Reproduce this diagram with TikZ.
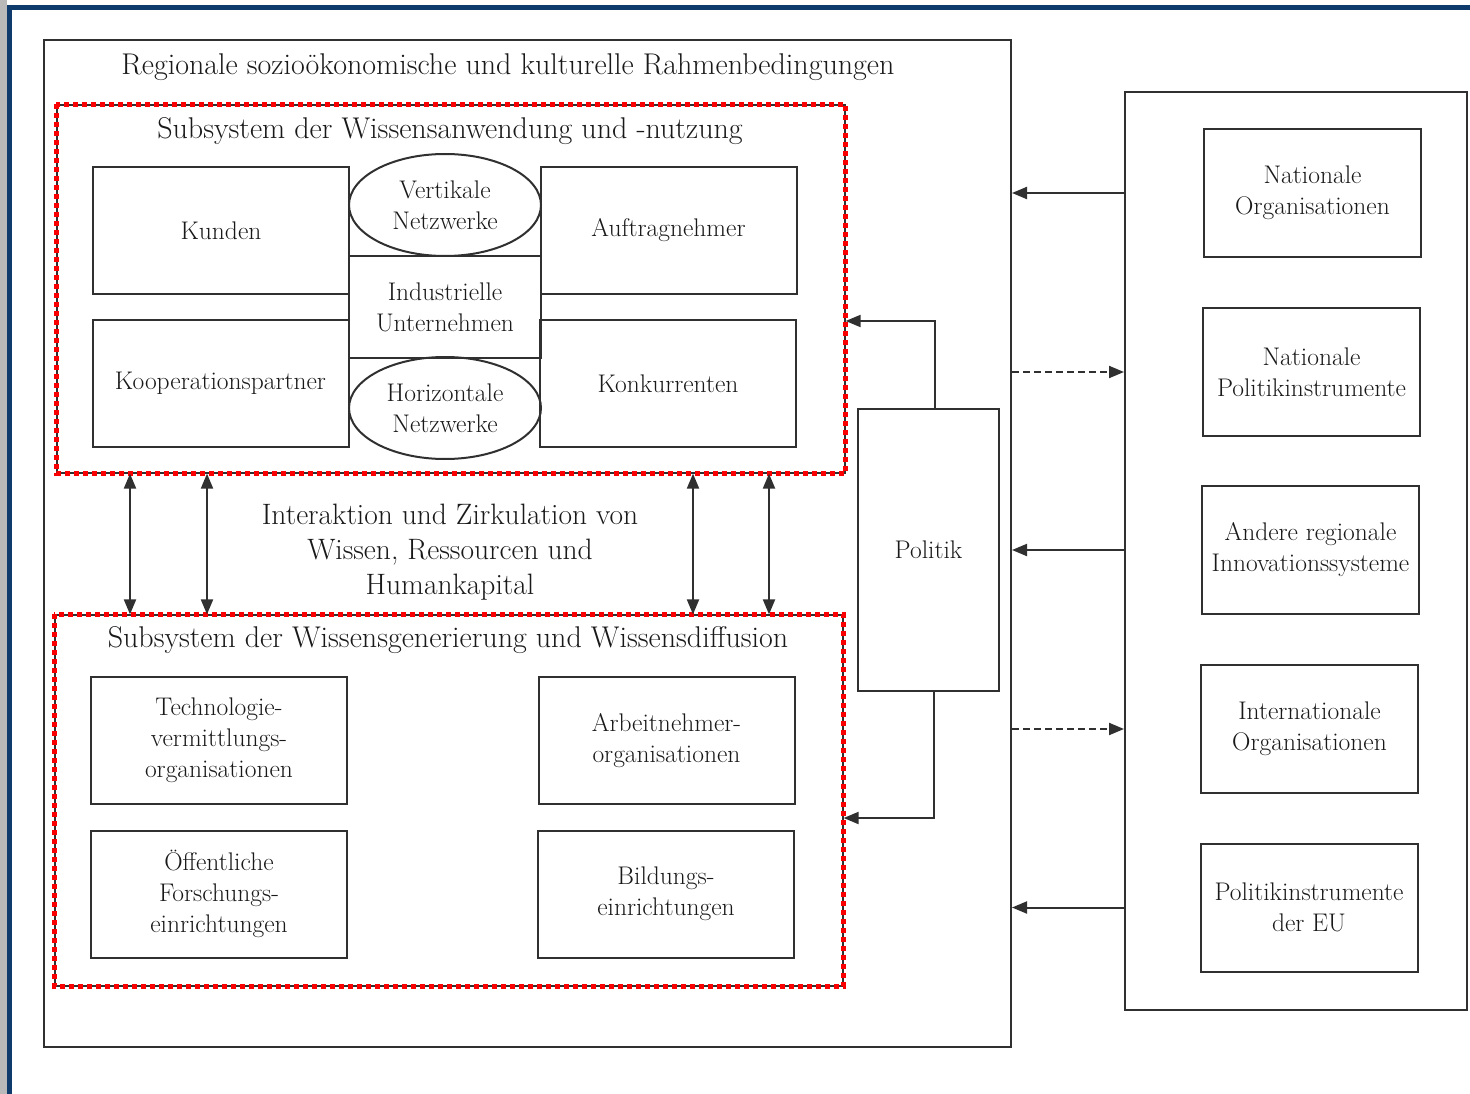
\documentclass[tikz,border=0pt]{standalone}
\usepackage{tikz}
\usepackage{xcolor}
\usetikzlibrary{arrows.meta, shapes.geometric, positioning, calc}

\definecolor{framenavy}{RGB}{14,58,108}
\definecolor{inkgray}{RGB}{48,48,48}
\definecolor{dotred}{RGB}{250,0,0}

\newcommand{\sysfont}{\fontsize{30}{34}\selectfont}
\newcommand{\boxfont}{\fontsize{25.5}{31}\selectfont}
\newcommand{\flowfont}{\fontsize{29.5}{35}\selectfont}

\tikzset{
  box/.style={draw=inkgray, line width=2pt, minimum width=256pt, minimum height=127pt,
    inner sep=0pt, align=center, text=black!90, font=\boxfont},
  netz/.style={ellipse, draw=inkgray, line width=2pt, minimum width=192pt, minimum height=102pt,
    inner sep=0pt, align=center, text=black!90, font=\boxfont},
  frame/.style={draw=inkgray, line width=2pt, inner sep=0pt},
  subsys/.style={draw=inkgray, line width=1.2pt, inner sep=0pt},
  reddots/.style={draw=dotred, line width=5pt, dash pattern=on 5pt off 4pt},
  heading/.style={text=black!90, font=\sysfont},
  arr/.style={draw=inkgray, line width=2pt, -{Triangle[length=15pt, width=12pt]}},
  dbl/.style={draw=inkgray, line width=2pt, {Triangle[length=15pt, width=12pt]}-{Triangle[length=15pt, width=12pt]}},
  dasharr/.style={arr, dash pattern=on 7pt off 4pt}
}

\begin{document}
\begin{tikzpicture}[x=1pt, y=-1pt]
    \useasboundingbox (0,0) rectangle (1470,1094);
    \fill[gray!55] (0,0) rectangle (7,1094);
    \fill[framenavy] (7,5) rectangle (1470,10);
    \fill[framenavy] (7,5) rectangle (12,1094);

    \node[frame, minimum width=967pt, minimum height=1007pt] (region) at (527.5,543.5) {};
    \node[heading] (regtitle) at (508,67) {Regionale sozioökonomische und kulturelle Rahmenbedingungen};

    \node[subsys, minimum width=788pt, minimum height=368pt] (anw) at (451,289) {};
    \draw[reddots] (anw.north west) rectangle (anw.south east);
    \node[heading] (anwtitle) at (450,131) {Subsystem der Wissensanwendung und -nutzung};

    \node[box] (kunden) at (221,230.5) {Kunden};
    \node[box] (auftrag) at (668.5,230.5) {Auftragnehmer};
    \node[box] (koop) at (220.5,383.5) {Kooperationspartner};
    \node[box] (konk) at (668,383.5) {Konkurrenten};
    \node[box, minimum width=192pt, minimum height=102pt] (indu) at (445,307) {Industrielle\\Unternehmen};
    \node[netz] (vert) at (445,205) {Vertikale\\Netzwerke};
    \node[netz] (horiz) at (445,408) {Horizontale\\Netzwerke};

    \node[align=center, text=black!90, font=\flowfont] (flow) at (450,552) {Interaktion und Zirkulation von\\Wissen, Ressourcen und\\Humankapital};

    \node[subsys, minimum width=788pt, minimum height=371pt] (gen) at (449,800.5) {};
    \draw[reddots] (gen.north west) rectangle (gen.south east);
    \node[heading] (gentitle) at (448,640) {Subsystem der Wissensgenerierung und Wissensdiffusion};

    \node[box] (tech) at (219,740.5) {Technologie-\\vermittlungs-\\organisationen};
    \node[box] (arbn) at (666.5,740.5) {Arbeitnehmer-\\organisationen};
    \node[box] (oeff) at (219,894) {Öffentliche\\Forschungs-\\einrichtungen};
    \node[box] (bild) at (666,894) {Bildungs-\\einrichtungen};

    \foreach \x in {130,207,693,769}
        \draw[dbl] (anw.south -| \x,0) -- (gen.north -| \x,0);

    \node[box, minimum width=141pt, minimum height=282pt] (politik) at (928.5,550) {Politik};
    \draw[arr] ([xshift=6.5pt]politik.north) |- ([yshift=-32pt]anw.east);
    \draw[arr] ([xshift=5.5pt]politik.south) |- ([yshift=-17.5pt]gen.east);

    \node[frame, minimum width=342pt, minimum height=918pt] (extern) at (1296,551) {};
    \node[box, minimum width=217pt, minimum height=128pt] (natorg) at (1312.5,193) {Nationale\\Organisationen};
    \node[box, minimum width=217pt, minimum height=128pt] (natpol) at (1311.5,372) {Nationale\\Politikinstrumente};
    \node[box, minimum width=217pt, minimum height=128pt] (andris) at (1310.5,550) {Andere regionale\\Innovationssysteme};
    \node[box, minimum width=217pt, minimum height=128pt] (intorg) at (1309.5,729) {Internationale\\Organisationen};
    \node[box, minimum width=217pt, minimum height=128pt] (eupol) at (1309,907.5) {Politikinstrumente\\der EU};

    \draw[arr] (extern.west |- natorg) -- (region.east |- natorg);
    \draw[dasharr] (region.east |- natpol) -- (extern.west |- natpol);
    \draw[arr] (extern.west |- andris) -- (region.east |- andris);
    \draw[dasharr] (region.east |- intorg) -- (extern.west |- intorg);
    \draw[arr] (extern.west |- eupol) -- (region.east |- eupol);
\end{tikzpicture}
\end{document}
